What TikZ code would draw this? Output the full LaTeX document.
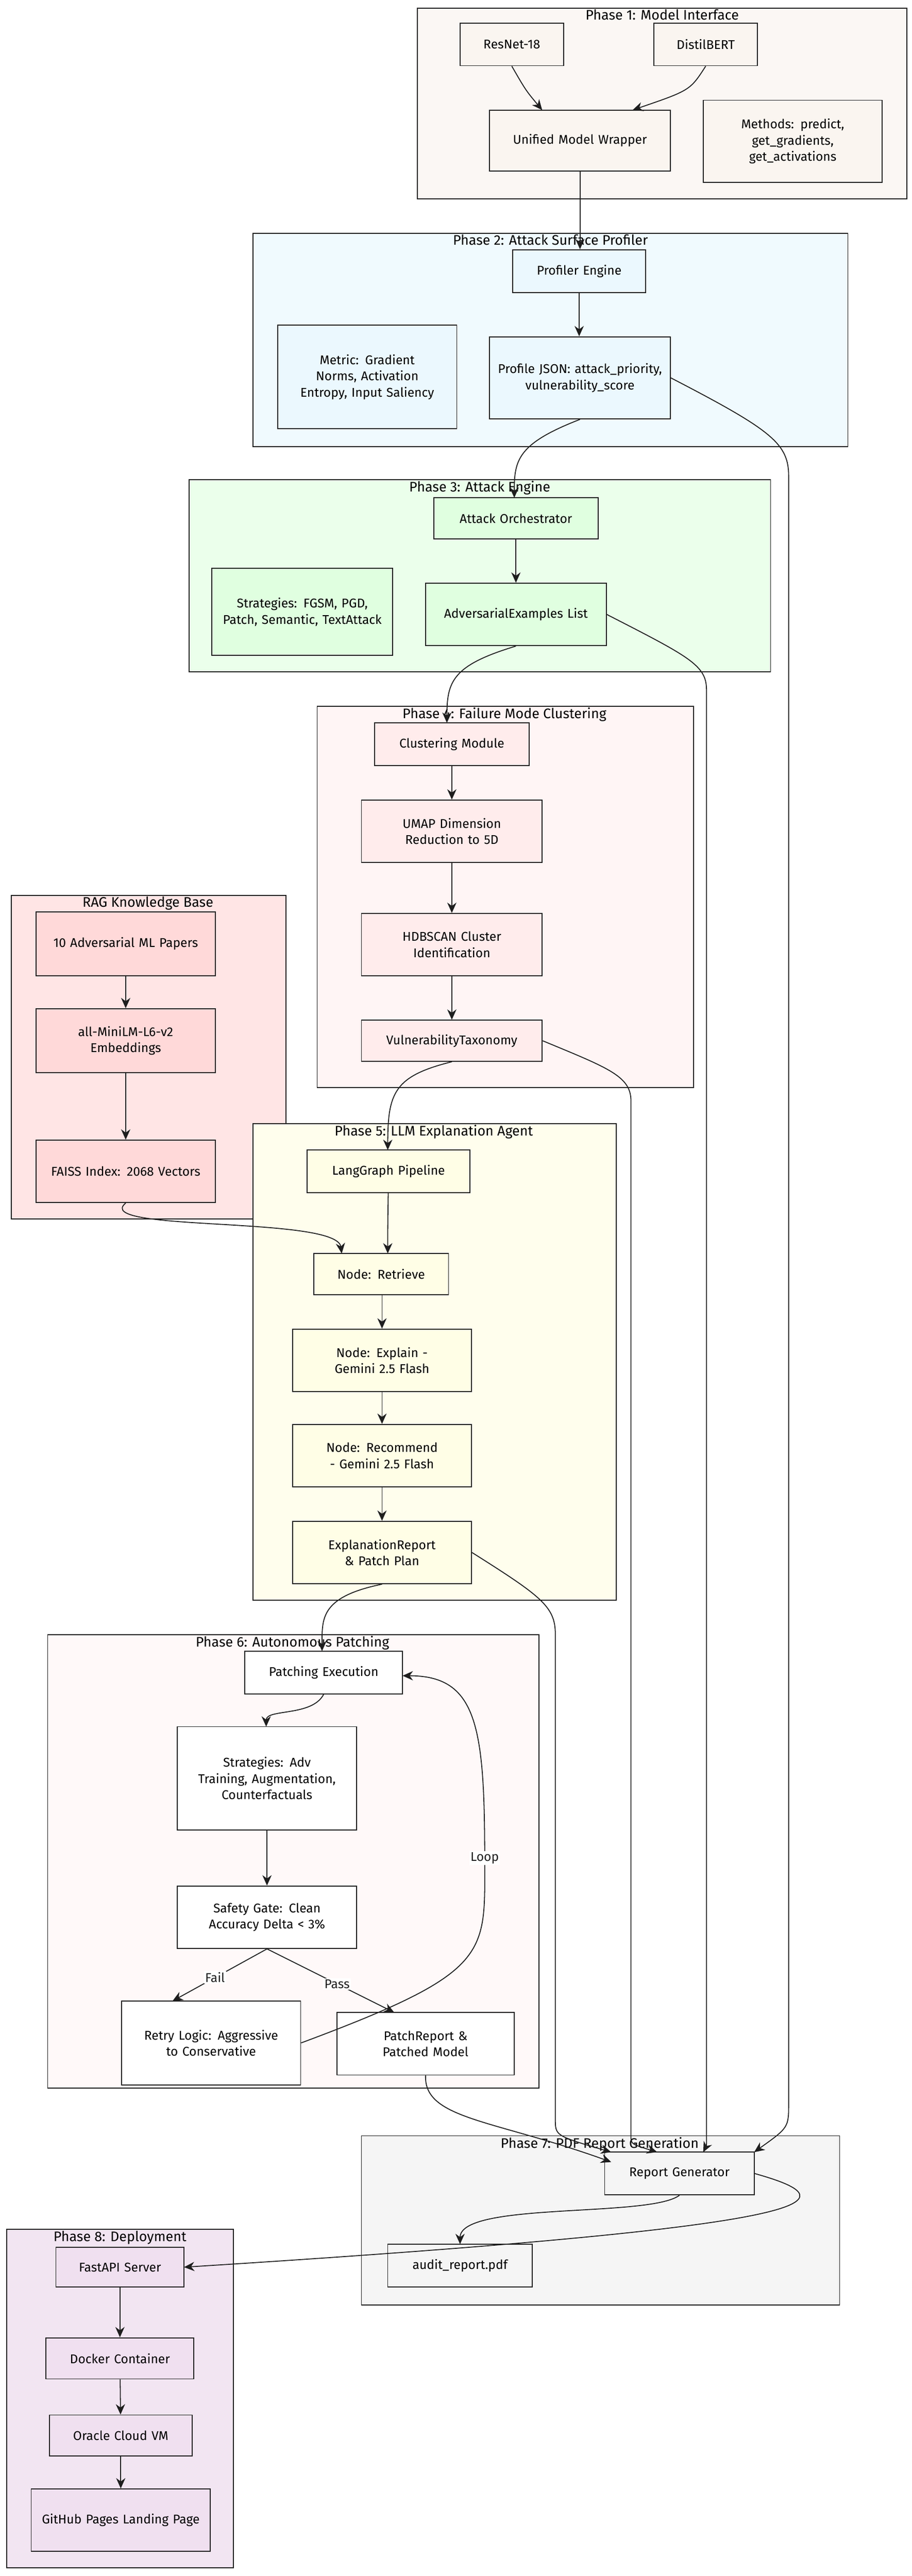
\documentclass[tikz,border=0pt]{standalone}
\usepackage{fontspec}
\setmainfont{Fira Sans}
\usetikzlibrary{positioning}
\usetikzlibrary{arrows.meta}
\hyphenpenalty=10000
\exhyphenpenalty=10000
\definecolor{ink}{HTML}{1E1E1E}
\tikzset{
  phase/.style={draw=ink, thick, fill=#1},
  ptitle/.style={font=\fontsize{12}{14}\selectfont, anchor=north, inner sep=1pt},
  box/.style={draw=ink, thick, fill=#1, align=center, font=\fontsize{11}{14}\selectfont, inner sep=2pt},
  arr/.style={->, thick, ink, >={Stealth[length=9pt,width=8pt]}},
  lbl/.style={font=\fontsize{11}{14}\selectfont, fill=white, inner sep=1pt}
}
\newcommand{\bx}[6]{\node[box=#6, minimum width={(#3-#1)*0.05cm}, minimum height={(#4-#2)*0.05cm}, text width={(#3-#1)*0.05cm-12pt}] (#5) at ({(#1+#3)/2},{(#2+#4)/2})}
\begin{document}
\begin{tikzpicture}[x=0.05cm, y=-0.05cm]
\useasboundingbox (0,0) rectangle (555,1568);
\fill[white] (0,0) rectangle (555,1568);
% phase frames
\draw[phase=brown!6] (254,5) rectangle (552,121);
\node[ptitle] at (403,5) {Phase 1: Model Interface};
\draw[phase=cyan!6] (154,142) rectangle (516,272);
\node[ptitle] at (335,142) {Phase 2: Attack Surface Profiler};
\draw[phase=green!8] (115,292) rectangle (469,409);
\node[ptitle] at (292,292) {Phase 3: Attack Engine};
\draw[phase=pink!15] (193,430) rectangle (422,662);
\node[ptitle] at (307,430) {Phase 4: Failure Mode Clustering};
\draw[phase=red!10] (7,545) rectangle (174,742);
\node[ptitle] at (90,545) {RAG Knowledge Base};
\draw[phase=yellow!7] (154,684) rectangle (375,974);
\node[ptitle] at (264,684) {Phase 5: LLM Explanation Agent};
\draw[phase=pink!10] (29,995) rectangle (328,1271);
\node[ptitle] at (178,995) {Phase 6: Autonomous Patching};
\draw[phase=gray!8] (220,1300) rectangle (511,1403);
\node[ptitle] at (365,1300) {Phase 7: PDF Report Generation};
\draw[phase=violet!10] (4,1357) rectangle (142,1563);
\node[ptitle] at (73,1357) {Phase 8: Deployment};
% phase 1
\bx{280}{14}{343}{40}{resnet}{brown!8}{ResNet-18};
\bx{398}{14}{461}{40}{distil}{brown!8}{DistilBERT};
\bx{298}{67}{408}{104}{wrapper}{brown!8}{Unified Model Wrapper};
\bx{428}{61}{537}{111}{methods}{brown!8}{Methods: predict, get\_gradients, get\_activations};
% phase 2
\bx{312}{152}{393}{178}{profiler}{cyan!8}{Profiler Engine};
\bx{169}{198}{278}{261}{metric}{cyan!8}{Metric: Gradient Norms, Activation Entropy, Input Saliency};
\bx{298}{205}{408}{255}{profile}{cyan!8}{Profile JSON: attack\_priority, vulnerability\_score};
% phase 3
\bx{264}{303}{364}{328}{orch}{green!12}{Attack Orchestrator};
\bx{129}{346}{239}{399}{strat}{green!12}{Strategies: FGSM, PGD, Patch, Semantic, TextAttack};
\bx{259}{355}{369}{393}{advex}{green!12}{AdversarialExamples List};
% phase 4
\bx{228}{440}{322}{466}{cluster}{pink!30}{Clustering Module};
\bx{220}{487}{330}{525}{umap}{pink!30}{UMAP Dimension Reduction to 5D};
\bx{220}{556}{330}{594}{hdbscan}{pink!30}{HDBSCAN Cluster Identification};
\bx{220}{621}{330}{646}{taxo}{pink!30}{VulnerabilityTaxonomy};
% rag
\bx{22}{555}{131}{594}{papers}{red!15}{10 Adversarial ML Papers};
\bx{22}{614}{131}{653}{minilm}{red!15}{all-MiniLM-L6-v2 Embeddings};
\bx{22}{694}{131}{732}{faiss}{red!15}{FAISS Index: 2068 Vectors};
% phase 5
\bx{187}{700}{286}{726}{lang}{yellow!10}{LangGraph Pipeline};
\bx{191}{763}{273}{788}{retrieve}{yellow!10}{Node: Retrieve};
\bx{178}{809}{287}{847}{explain}{yellow!10}{Node: Explain - Gemini 2.5 Flash};
\bx{178}{867}{287}{905}{recommend}{yellow!10}{Node: Recommend - Gemini 2.5 Flash};
\bx{178}{926}{287}{964}{explrep}{yellow!10}{ExplanationReport \& Patch Plan};
% phase 6
\bx{149}{1005}{245}{1031}{patchexe}{white}{Patching Execution};
\bx{108}{1051}{217}{1114}{advtrain}{white}{Strategies: Adv Training, Augmentation, Counterfactuals};
\bx{108}{1148}{217}{1186}{gate}{white}{Safety Gate: Clean Accuracy Delta < 3\%};
\bx{74}{1218}{183}{1269}{retry}{white}{Retry Logic: Aggressive to Conservative};
\bx{205}{1225}{313}{1263}{patchrep}{white}{PatchReport \& Patched Model};
% phase 7
\bx{368}{1310}{459}{1336}{reportgen}{gray!8}{Report Generator};
\bx{236}{1366}{324}{1392}{audit}{gray!8}{audit\_report.pdf};
% phase 8
\bx{34}{1368}{112}{1392}{fastapi}{violet!12}{FastAPI Server};
\bx{28}{1423}{118}{1448}{docker}{violet!12}{Docker Container};
\bx{30}{1470}{117}{1495}{oracle}{violet!12}{Oracle Cloud VM};
\bx{19}{1515}{128}{1553}{github}{violet!12}{GitHub Pages Landing Page};
% connectors
\draw[arr] (resnet.south) .. controls (320,55) .. (330,67);
\draw[arr] (distil.south) .. controls (420,55) .. (385,67);
\draw[arr] (wrapper.south) -- (wrapper.south |- profiler.north);
\draw[arr] (profiler) -- (profiler |- profile.north);
\draw[arr] (profile.south) .. controls (315,270) and (313,280) .. (313,303);
\draw[arr] (profile.east) .. controls (470,262) and (480,270) .. (480,290) -- (480,1280) .. controls (480,1295) .. (459,1310);
\draw[arr] (orch) -- (orch |- advex.north);
\draw[arr] (advex.south) .. controls (275,405) and (272,415) .. (272,440);
\draw[arr] (advex.east) .. controls (420,400) and (430,405) .. (430,420) -- (430,1300) .. controls (430,1306) .. (428,1310);
\draw[arr] (cluster.south -| umap) -- (umap);
\draw[arr] (umap) -- (hdbscan);
\draw[arr] (hdbscan) -- (taxo);
\draw[arr] (taxo.south) .. controls (240,655) and (236,665) .. (236,700);
\draw[arr] (taxo.east) .. controls (370,650) and (384,655) .. (384,670) -- (384,1300) .. controls (384,1305) .. (400,1310);
\draw[arr] (papers) -- (minilm);
\draw[arr] (minilm) -- (faiss);
\draw[arr] (faiss.south) .. controls (55,750) and (205,740) .. (208,763);
\draw[arr] (lang) .. controls (236,745) .. (236,763);
\draw[arr] (retrieve.south -| explain) -- (explain);
\draw[arr] (explain) -- (recommend);
\draw[arr] (recommend) -- (explrep);
\draw[arr] (explrep.south) .. controls (195,972) and (196,985) .. (196,1005);
\draw[arr] (explrep.east) .. controls (330,972) and (338,978) .. (338,995) -- (338,1290) .. controls (338,1300) .. (372,1310);
\draw[arr] (patchexe.south) .. controls (190,1045) and (162,1040) .. (162,1051);
\draw[arr] (advtrain) -- (gate);
\draw[arr] (gate.south) -- node[lbl, pos=0.55] {Fail} (105,1218);
\draw[arr] (gate.south) -- node[lbl, pos=0.55] {Pass} (240,1225);
\draw[arr] (retry.east) .. controls (300,1200) and (295,1190) .. (295,1131) node[lbl] {Loop} .. controls (295,1050) and (290,1020) .. (245,1020);
\draw[arr] (patchrep.south) .. controls (258,1290) and (300,1290) .. (372,1316);
\draw[arr] (reportgen.south) .. controls (395,1350) and (280,1340) .. (280,1366);
\draw[arr] (reportgen.east) .. controls (520,1340) and (510,1355) .. (112,1380);
\draw[arr] (fastapi) -- (docker);
\draw[arr] (docker) -- (oracle);
\draw[arr] (oracle) -- (github);
\end{tikzpicture}
\end{document}
